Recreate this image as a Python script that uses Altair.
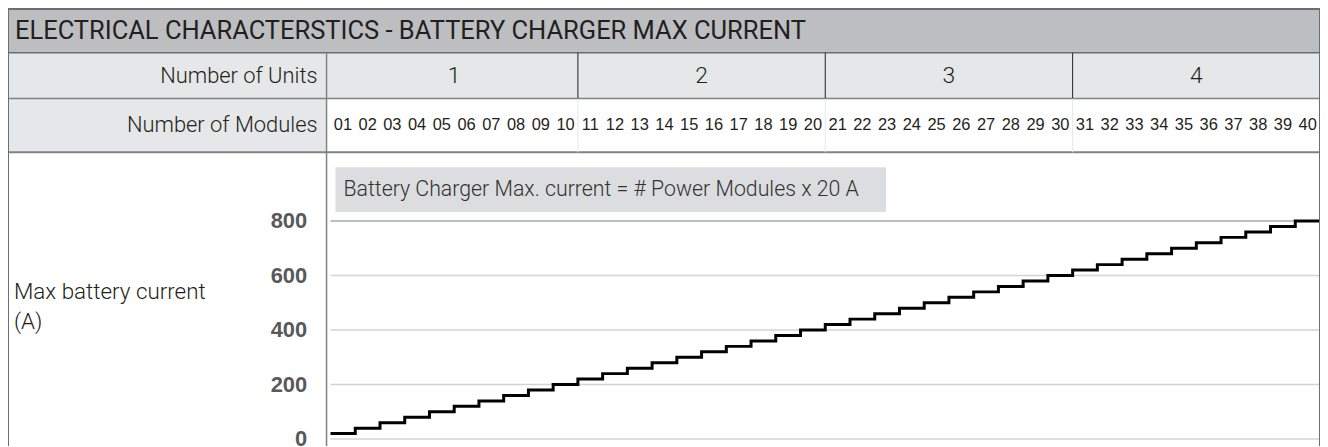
import altair as alt
import pandas as pd

# ---------------- data ----------------
TITLE = "ELECTRICAL CHARACTERSTICS - BATTERY CHARGER MAX CURRENT"
ROW_LABELS = ["Number of Units", "Number of Modules"]
UNITS = ["1", "2", "3", "4"]
MODULE_LABELS = ["01", "02", "03", "04", "05", "06", "07", "08", "09", "10",
                 "11", "12", "13", "14", "15", "16", "17", "18", "19", "20",
                 "21", "22", "23", "24", "25", "26", "27", "28", "29", "30",
                 "31", "32", "33", "34", "35", "36", "37", "38", "39", "40"]
MAX_CURRENT = [20, 40, 60, 80, 100, 120, 140, 160, 180, 200,
               220, 240, 260, 280, 300, 320, 340, 360, 380, 400,
               420, 440, 460, 480, 500, 520, 540, 560, 580, 600,
               620, 640, 660, 680, 700, 720, 740, 760, 780, 800]
Y_TICKS = [0, 200, 400, 600, 800]
Y_LABEL = "Max battery current\n(A)"
NOTE = "Battery Charger Max. current = # Power Modules x 20 A"

# ---------------- layout (chart pixels) ----------------
W, H = 1318, 439
PLOT_X0 = 324                      # where module 0 starts
N_MOD = len(MODULE_LABELS)
MOD_PER_UNIT = N_MOD // len(UNITS)
PX_PER_MOD = (W - PLOT_X0) / N_MOD
Y0_PX, Y800_PX = 432, 213
PX_PER_A = (Y0_PX - Y800_PX) / 800.0
ROW_Y = [0, 44, 90, 144]           # top of title, units, modules, body rows
LEFT_COL = 320


def mx(px):
    return (px - PLOT_X0) / PX_PER_MOD


def ay(py):
    return (Y0_PX - py) / PX_PER_A


XS = alt.Scale(domain=[mx(0), mx(W)], nice=False, zero=False)
YS = alt.Scale(domain=[ay(H), ay(0)], nice=False, zero=False)
YAXIS = alt.Axis(values=Y_TICKS, orient="left", offset=-PLOT_X0, grid=False,
                 domain=False, ticks=False, tickSize=0, labelPadding=24,
                 labelFont="Liberation Sans", labelFontWeight="bold",
                 labelFontSize=22, labelColor="#58595b", title=None,
                 labelOverlap=False)


def X(f):
    return alt.X(f, type="quantitative", scale=XS, axis=None)


def Y(f):
    return alt.Y(f, type="quantitative", scale=YS, axis=YAXIS)


# ---------------- background cells ----------------
bg = pd.DataFrame([
    dict(x=mx(0), x2=mx(W), y=ay(ROW_Y[1]), y2=ay(ROW_Y[0]), fill="#bcbec0"),
    dict(x=mx(0), x2=mx(W), y=ay(ROW_Y[2]), y2=ay(ROW_Y[1]), fill="#e6e7e8"),
    dict(x=mx(0), x2=mx(LEFT_COL), y=ay(ROW_Y[3]), y2=ay(ROW_Y[2]), fill="#e6e7e8"),
    dict(x=mx(329), x2=mx(882), y=ay(204), y2=ay(159), fill="#dcddde"),
])
bg_layer = alt.Chart(bg).mark_rect().encode(
    x=X("x"), x2="x2", y=Y("y"), y2="y2",
    color=alt.Color("fill:N", scale=None))

# ---------------- grid lines ----------------
grid = pd.DataFrame({"v": Y_TICKS, "x": 0, "x2": N_MOD,
                     "c": ["#d1d3d4"] * 4 + ["#a7a9ac"]})
grid_layer = alt.Chart(grid).mark_rule(strokeWidth=1.5).encode(
    x=X("x"), x2="x2", y=Y("v"), color=alt.Color("c:N", scale=None))

# ---------------- step line ----------------
line_df = pd.DataFrame({"m": list(range(N_MOD + 1)),
                        "a": MAX_CURRENT + [MAX_CURRENT[-1]]})
line_layer = alt.Chart(line_df).mark_line(
    interpolate="step-after", color="#000000", strokeWidth=3).encode(
    x=X("m"), y=Y("a"))

# ---------------- frame lines ----------------
frame = []
for i, yy in enumerate(ROW_Y):
    frame.append(dict(x=mx(0), x2=mx(W), y=ay(yy), y2=ay(yy),
                      c="#6d6e71" if i < 2 else "#808285",
                      w=2 if i in (0, 3) else 1.5))
frame.append(dict(x=mx(0), x2=mx(0), y=ay(H), y2=ay(0), c="#6d6e71", w=2))
frame.append(dict(x=mx(W), x2=mx(W), y=ay(H), y2=ay(0), c="#6d6e71", w=2))
frame.append(dict(x=mx(LEFT_COL), x2=mx(LEFT_COL), y=ay(H), y2=ay(ROW_Y[1]),
                  c="#808285", w=1.5))
for k in range(1, len(UNITS)):
    xm = k * MOD_PER_UNIT
    frame.append(dict(x=xm, x2=xm, y=ay(ROW_Y[2]), y2=ay(ROW_Y[1]), c="#231f20", w=1))
    frame.append(dict(x=xm, x2=xm, y=ay(ROW_Y[3]), y2=ay(ROW_Y[2]), c="#e6e7e8", w=1))
frame_layer = alt.Chart(pd.DataFrame(frame)).mark_rule().encode(
    x=X("x"), x2="x2", y=Y("y"), y2="y2",
    color=alt.Color("c:N", scale=None),
    strokeWidth=alt.StrokeWidth("w:Q", scale=None))

# ---------------- texts ----------------
title_layer = alt.Chart(pd.DataFrame({"t": [TITLE], "x": [mx(7)],
                                      "y": [ay((ROW_Y[0] + ROW_Y[1]) / 2)]})).mark_text(
    align="left", baseline="middle", font="Roboto", fontSize=25.6,
    color="#231f20").encode(x=X("x"), y=Y("y"), text="t:N")

row_lab = pd.DataFrame({"t": ROW_LABELS, "x": [mx(311)] * 2,
                        "y": [ay((ROW_Y[1] + ROW_Y[2]) / 2), ay((ROW_Y[2] + ROW_Y[3]) / 2)]})
row_lab_layer = alt.Chart(row_lab).mark_text(
    align="right", baseline="middle", font="Roboto", fontWeight=300,
    fontSize=22, color="#231f20").encode(x=X("x"), y=Y("y"), text="t:N")

units_df = pd.DataFrame({"t": UNITS,
                         "x": [(k + 0.5) * MOD_PER_UNIT for k in range(len(UNITS))],
                         "y": ay((ROW_Y[1] + ROW_Y[2]) / 2)})
units_layer = alt.Chart(units_df).mark_text(
    align="center", baseline="middle", font="Roboto", fontWeight=300,
    fontSize=23, color="#231f20").encode(x=X("x"), y=Y("y"), text="t:N")

mods_df = pd.DataFrame({"t": MODULE_LABELS,
                        "x": [i + 0.5 for i in range(N_MOD)],
                        "y": ay((ROW_Y[2] + ROW_Y[3]) / 2)})
mods_layer = alt.Chart(mods_df).mark_text(
    align="center", baseline="middle", font="Liberation Sans",
    fontSize=16.5, color="#231f20").encode(x=X("x"), y=Y("y"), text="t:N")

ylab_layer = alt.Chart(pd.DataFrame({"t": [Y_LABEL], "x": [mx(6)], "y": [ay(291)]})).mark_text(
    align="left", baseline="alphabetic", font="Roboto", fontWeight=300,
    fontSize=22.5, lineBreak="\n", lineHeight=30, color="#231f20").encode(
    x=X("x"), y=Y("y"), text="t:N")

note_layer = alt.Chart(pd.DataFrame({"t": [NOTE], "x": [mx(337)], "y": [ay(182)]})).mark_text(
    align="left", baseline="middle", font="Roboto", fontWeight=300,
    fontSize=21.4, color="#333333").encode(x=X("x"), y=Y("y"), text="t:N")

chart = alt.layer(
    bg_layer, grid_layer, line_layer, frame_layer,
    title_layer, row_lab_layer, units_layer, mods_layer, ylab_layer, note_layer,
).properties(
    width=W, height=H, autosize=alt.AutoSizeParams(type="none"), padding=0,
).configure_view(stroke=None)

chart.save("out.html", embed_options={"renderer": "svg", "actions": False})
